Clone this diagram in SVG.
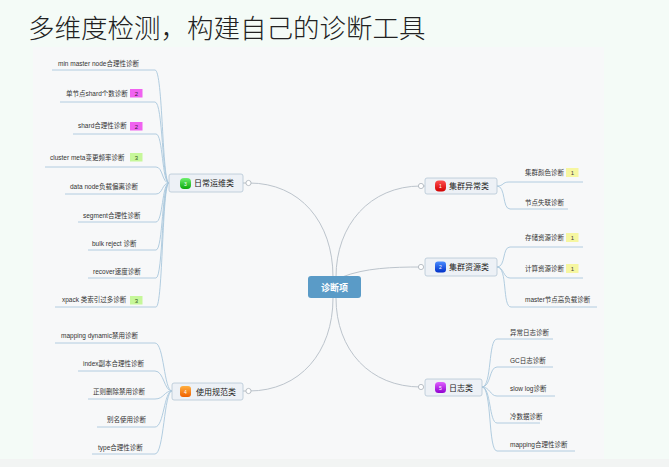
<svg xmlns="http://www.w3.org/2000/svg" width="669" height="467" viewBox="0 0 669 467">
<defs>
<style>
.t{font-family:"Liberation Sans","Noto Sans CJK SC",sans-serif;font-size:6.5px;fill:#333}
.cat{font-family:"Liberation Sans","Noto Sans CJK SC",sans-serif;font-size:8px;fill:#222}
.box{fill:#edf1f6;stroke:#b5c6d6;stroke-width:0.8}
.main{fill:none;stroke:#bcc4cc;stroke-width:1}
.leaf{fill:none;stroke:#a9c7dc;stroke-width:0.9}
.knob{fill:#fff;stroke:#a8b0b8;stroke-width:0.8}
.bt{font-family:"Liberation Sans",sans-serif;font-size:6px;text-anchor:middle}
.it{font-family:"Liberation Sans",sans-serif;font-size:5px;fill:#fff;text-anchor:middle}
</style>
<linearGradient id="gG" x1="0" y1="0" x2="0" y2="1"><stop offset="0" stop-color="#6ef06e"/><stop offset="1" stop-color="#0aa80a"/></linearGradient>
<linearGradient id="gR" x1="0" y1="0" x2="0" y2="1"><stop offset="0" stop-color="#ff5050"/><stop offset="1" stop-color="#d00000"/></linearGradient>
<linearGradient id="gB" x1="0" y1="0" x2="0" y2="1"><stop offset="0" stop-color="#4a8cff"/><stop offset="1" stop-color="#0030c8"/></linearGradient>
<linearGradient id="gO" x1="0" y1="0" x2="0" y2="1"><stop offset="0" stop-color="#ffb040"/><stop offset="1" stop-color="#f06000"/></linearGradient>
<linearGradient id="gP" x1="0" y1="0" x2="0" y2="1"><stop offset="0" stop-color="#e060ff"/><stop offset="1" stop-color="#9000d0"/></linearGradient>
</defs>
<rect x="0" y="0" width="669" height="467" fill="#f4fbf7"/>
<rect x="33" y="47" width="571" height="412" fill="#f7f8f9"/>
<rect x="0" y="459" width="669" height="8" fill="#f2f4f3"/>
<text x="28" y="38" font-family="'Noto Sans CJK SC',sans-serif" font-size="26.5" font-weight="300" fill="#222">多维度检测，构建自己的诊断工具</text>

<g id="connectors">
<path class="main" d="M249,183 C300,183 333,222 333,277"/>
<path class="main" d="M421,186 C370,186 336,225 336,277"/>
<path class="main" d="M342,277 C365,268 392,267 421,267"/>
<path class="main" d="M249,391 C300,391 333,352 333,298"/>
<path class="main" d="M421,387 C370,387 336,350 336,298"/>
<g class="leaf">
<path d="M52,70 L155,70 C163,70 162,183 169,183"/>
<path d="M60,102 L155,102 C163,102 162,183 169,183"/>
<path d="M73,134 L156,134 C163,134 162,183 169,183"/>
<path d="M45,167 L156,167 C163,167 162,183 169,183"/>
<path d="M65,194 L156,194 C163,194 162,183 169,183"/>
<path d="M78,222 L156,222 C163,222 162,183 169,183"/>
<path d="M88,250 L156,250 C163,250 162,183 169,183"/>
<path d="M88,278 L156,278 C163,278 162,183 169,183"/>
<path d="M55,307 L156,307 C163,307 162,183 169,183"/>
<path d="M55,343 L155,343 C164,343 164,391 172,391"/>
<path d="M78,371 L155,371 C164,371 164,391 172,391"/>
<path d="M88,399 L155,399 C164,399 164,391 172,391"/>
<path d="M97,427 L155,427 C164,427 164,391 172,391"/>
<path d="M92,454 L155,454 C164,454 164,391 172,391"/>
<path d="M497,186 C504,186 502,182 509,182 L583,182"/>
<path d="M497,186 C506,186 502,209 510,209 L568,209"/>
<path d="M497,267 C506,267 502,247 510,247 L583,247"/>
<path d="M497,267 C504,267 503,278 510,278 L583,278"/>
<path d="M497,267 C508,267 502,307 511,307 L597,307"/>
<path d="M482,387 C492,387 488,339 497,339 L553,339"/>
<path d="M482,387 C491,387 489,367 497,367 L553,367"/>
<path d="M482,387 C490,387 490,396 497,396 L555,396"/>
<path d="M482,387 C491,387 489,423 497,423 L540,423"/>
<path d="M482,387 C492,387 488,451 497,451 L575,451"/>
</g>
</g>

<g id="center">
<rect x="308" y="276" width="53" height="22" rx="3" fill="#5a9bc7"/>
<text x="334.5" y="290.5" font-family="'Noto Sans CJK SC',sans-serif" font-size="9" font-weight="bold" fill="#fff" text-anchor="middle">诊断项</text>
</g>

<g id="n-daily">
<line x1="243" y1="183" x2="246" y2="183" stroke="#a8b0b8" stroke-width="0.8"/>
<circle class="knob" cx="248.5" cy="183" r="2.6"/>
<rect class="box" x="169" y="174" width="74" height="18" rx="2"/>
<rect x="180" y="178" width="11" height="11" rx="4" fill="url(#gG)"/>
<text class="it" x="185.5" y="185.5">3</text>
<text class="cat" x="194" y="186">日常运维类</text>
</g>
<g id="n-usage">
<line x1="243" y1="391" x2="246" y2="391" stroke="#a8b0b8" stroke-width="0.8"/>
<circle class="knob" cx="248.5" cy="391" r="2.6"/>
<rect class="box" x="172" y="383" width="71" height="17" rx="2"/>
<rect x="180" y="386" width="11" height="11" rx="3" fill="url(#gO)"/>
<text class="it" x="185.5" y="393.5">4</text>
<text class="cat" x="196" y="394.5">使用规范类</text>
</g>
<g id="n-abnormal">
<line x1="424" y1="186" x2="425" y2="186" stroke="#a8b0b8" stroke-width="0.8"/>
<circle class="knob" cx="421" cy="186" r="2.6"/>
<rect class="box" x="425" y="178" width="72" height="16" rx="2"/>
<rect x="435" y="180.5" width="11" height="11" rx="4" fill="url(#gR)"/>
<text class="it" x="440.5" y="188">1</text>
<text class="cat" x="449" y="189">集群异常类</text>
</g>
<g id="n-resource">
<circle class="knob" cx="421" cy="267" r="2.6"/>
<rect class="box" x="425" y="258" width="72" height="18" rx="2"/>
<rect x="435" y="261.5" width="11" height="11" rx="3" fill="url(#gB)"/>
<text class="it" x="440.5" y="269">2</text>
<text class="cat" x="449" y="270">集群资源类</text>
</g>
<g id="n-log">
<circle class="knob" cx="421" cy="387" r="2.6"/>
<rect class="box" x="425" y="379" width="57" height="17" rx="2"/>
<rect x="435" y="382" width="11" height="11" rx="3.5" fill="url(#gP)"/>
<text class="it" x="440.5" y="389.5">5</text>
<text class="cat" x="449" y="390.5">日志类</text>
</g>

<g id="leaves-left">
<text class="t" x="58" y="66">min master node合理性诊断</text>
<text class="t" x="66" y="96">单节点shard个数诊断</text>
<rect x="130" y="89" width="12.5" height="8.5" fill="#f062f0"/><text class="bt" x="136.3" y="95.7" fill="#402040">2</text>
<text class="t" x="78" y="128">shard合理性诊断</text>
<rect x="130" y="122" width="12.5" height="8.5" fill="#f062f0"/><text class="bt" x="136.3" y="128.7" fill="#402040">2</text>
<text class="t" x="50" y="160">cluster meta变更频率诊断</text>
<rect x="130" y="153" width="12.5" height="8.5" fill="#c6f79a"/><text class="bt" x="136.3" y="159.7" fill="#335522">3</text>
<text class="t" x="70" y="189">data node负载偏离诊断</text>
<text class="t" x="83" y="218">segment合理性诊断</text>
<text class="t" x="92" y="246">bulk reject 诊断</text>
<text class="t" x="93" y="274">recover速度诊断</text>
<text class="t" x="62" y="302">xpack 类索引过多诊断</text>
<rect x="130" y="296" width="12.5" height="8.5" fill="#c6f79a"/><text class="bt" x="136.3" y="302.7" fill="#335522">3</text>
<text class="t" x="61" y="338">mapping dynamic禁用诊断</text>
<text class="t" x="83" y="366">index副本合理性诊断</text>
<text class="t" x="93" y="394">正则删除禁用诊断</text>
<text class="t" x="107" y="422">别名使用诊断</text>
<text class="t" x="98" y="450">type合理性诊断</text>
</g>
<g id="leaves-right">
<text class="t" x="525" y="175">集群颜色诊断</text>
<rect x="566" y="168" width="12.5" height="9" fill="#f6f6a0"/><text class="bt" x="572.3" y="175" fill="#444">1</text>
<text class="t" x="525" y="205">节点失联诊断</text>
<text class="t" x="525" y="240">存储资源诊断</text>
<rect x="566" y="233" width="12.5" height="9" fill="#f6f6a0"/><text class="bt" x="572.3" y="240" fill="#444">1</text>
<text class="t" x="525" y="271">计算资源诊断</text>
<rect x="566" y="264" width="12.5" height="9" fill="#f6f6a0"/><text class="bt" x="572.3" y="271" fill="#444">1</text>
<text class="t" x="525" y="302">master节点高负载诊断</text>
<text class="t" x="510" y="335">异常日志诊断</text>
<text class="t" x="510" y="363">GC日志诊断</text>
<text class="t" x="510" y="391">slow log诊断</text>
<text class="t" x="510" y="419">冷数据诊断</text>
<text class="t" x="510" y="447">mapping合理性诊断</text>
</g>
</svg>
